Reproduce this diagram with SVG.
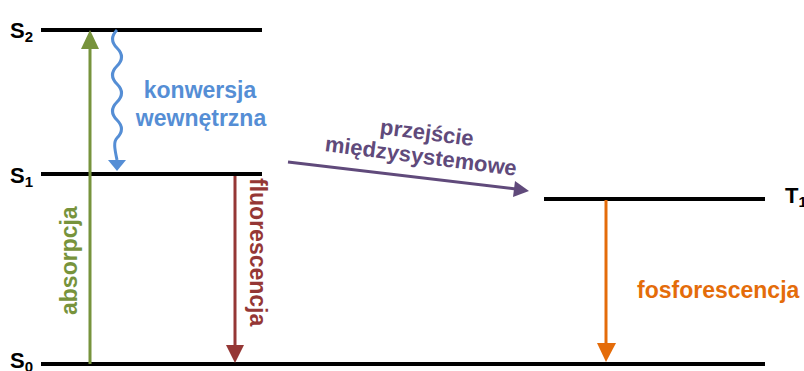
<svg xmlns="http://www.w3.org/2000/svg" width="804" height="371" viewBox="0 0 804 371">
<style>
.lvl{stroke:#000;stroke-width:4;fill:none}
.lbl{font-family:"Liberation Sans",Arial,sans-serif;font-weight:bold;font-size:22px;fill:#000}
.sub{font-size:15px}
.t{font-family:"Liberation Sans",Arial,sans-serif;font-weight:bold;font-size:23px}
</style>
<rect width="804" height="371" fill="#fff"/>
<g id="S2"><line class="lvl" x1="41" y1="30" x2="262" y2="30"/><text class="lbl" x="10" y="38">S<tspan class="sub" dy="4">2</tspan></text></g>
<g id="S1"><line class="lvl" x1="41" y1="174" x2="262" y2="174"/><text class="lbl" x="10" y="183">S<tspan class="sub" dy="4">1</tspan></text></g>
<g id="S0"><line class="lvl" x1="41" y1="364" x2="765" y2="364"/><text class="lbl" x="10" y="368">S<tspan class="sub" dy="4">0</tspan></text></g>
<g id="T1"><line class="lvl" x1="544" y1="199" x2="765" y2="199"/><text class="lbl" x="785" y="203">T<tspan class="sub" dy="4">1</tspan></text></g>
<g id="connectors">
<g id="absorpcja">
<line x1="90" y1="364" x2="90" y2="46" stroke="#77933C" stroke-width="3"/>
<polygon points="81,49 99,49 90,30" fill="#77933C"/>
<text class="t" fill="#77933C" transform="translate(77,315) rotate(-90)">absorpcja</text>
</g>
<g id="konwersja">
<path d="M117,30 C111,36 111,42 117,48 C123,54 123,60 117,66 C111,72 111,78 117,84 C123,90 123,96 117,102 C111,108 111,114 117,120 C123,126 123,132 117,138 C113,142 115,150 117,160" stroke="#558ED5" stroke-width="3" fill="none"/>
<polygon points="108,160 126,160 117,171" fill="#558ED5"/>
<text class="t" fill="#558ED5" x="200" y="98" text-anchor="middle">konwersja</text>
<text class="t" fill="#558ED5" x="201" y="126" text-anchor="middle">wewnętrzna</text>
</g>
<g id="fluorescencja">
<line x1="235" y1="176" x2="235" y2="347" stroke="#953735" stroke-width="3"/>
<polygon points="226,345 244,345 235,363" fill="#953735"/>
<text class="t" fill="#953735" transform="translate(250,178) rotate(90)">fluorescencja</text>
</g>
<g id="przejscie">
<line x1="288" y1="162" x2="516" y2="189" stroke="#604A7B" stroke-width="3"/>
<polygon points="515,181 529,191 513,197" fill="#604A7B"/>
<g transform="translate(426,140) rotate(7.4)"><text class="t" fill="#604A7B" style="font-size:22px" x="0" y="0" text-anchor="middle">przejście</text>
<text class="t" fill="#604A7B" style="font-size:22px" x="-3" y="24" text-anchor="middle">międzysystemowe</text></g>
</g>
<g id="fosforescencja">
<line x1="606" y1="200" x2="606" y2="346" stroke="#E46C0A" stroke-width="3"/>
<polygon points="597,343 616,343 606,362" fill="#E46C0A"/>
<text class="t" fill="#E46C0A" x="637" y="298">fosforescencja</text>
</g>
</g>
</svg>
